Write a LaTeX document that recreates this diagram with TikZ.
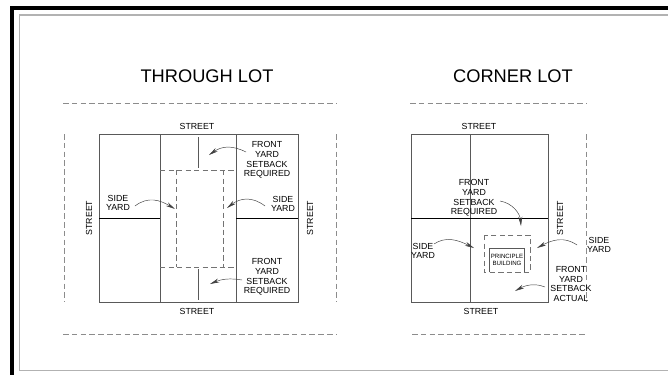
\documentclass[tikz,border=0pt]{standalone}
\usepackage{fontspec}
\setmainfont{Liberation Sans}
\usetikzlibrary{arrows.meta}
\tikzset{
  lotline/.style={black!65, line width=0.6pt},
  yardline/.style={black, line width=0.6pt},
  cutline/.style={black!55, line width=0.6pt, dash pattern=on 4pt off 2.4pt},
  roadline/.style={black!45, line width=0.6pt, dash pattern=on 4.2pt off 2.4pt},
  arr/.style={-{Stealth[length=7pt,width=3pt]}, black!75, line width=0.35pt},
  head/.style={font=\fontsize{13.7}{15}\selectfont, text=black, inner sep=0pt},
  tag/.style={font=\fontsize{6.6}{7.2}\selectfont, align=center, text=black, inner sep=0pt},
  tiny/.style={font=\fontsize{4.6}{5}\selectfont, align=center, text=black, inner sep=0pt},
}
\begin{document}
\begin{tikzpicture}[x=0.75pt, y=-0.75pt]
\useasboundingbox (0,0) rectangle (668,375);
% frame
\draw[black, line width=2.4pt] (668,8) -- (12,8) -- (12,375);
\draw[black!30, line width=1.3pt] (668,15) -- (19.5,15) -- (19.5,370.5) -- (668,370.5);

% through lot
\node[head] (title1) at (207,76) {THROUGH LOT};
\draw[roadline] (63,103) -- (336,103);
\draw[roadline] (63,334) -- (336,334);
\draw[roadline] (64,134) -- (64,302);
\draw[roadline] (336,134) -- (336,302);
\draw[lotline] (99,134) rectangle (298,302);
\draw[lotline] (160,134) -- (160,302);
\draw[lotline] (236,134) -- (236,302);
\draw[yardline] (99,218) -- (160,218);
\draw[yardline] (236,218) -- (298,218);
\draw[cutline] (160,170) -- (236,170);
\draw[cutline] (160,267) -- (236,267);
\draw[cutline] (176,170) -- (176,267);
\draw[cutline] (223,170) -- (223,267);
\draw[lotline] (198,137) -- (198,168);
\draw[lotline] (198,269) -- (198,300);
\node[tag] (st1) at (197,126) {STREET};
\node[tag] (sb1) at (197,311) {STREET};
\node[tag, rotate=90] (sl1) at (89,218) {STREET};
\node[tag, rotate=90] (sr1) at (310,218) {STREET};
\node[tag] (front1) at (267,160) {FRONT\\YARD\\SETBACK\\REQUIRED};
\node[tag] (front2) at (267,277) {FRONT\\YARD\\SETBACK\\REQUIRED};
\node[tag] (side1) at (118,203) {SIDE\\YARD};
\node[tag] (side2) at (283,204) {SIDE\\YARD};
\draw[arr] (246,152) .. controls (232,145) and (222,146) .. (209,155);
\draw[arr] (135,206) .. controls (148,196) and (160,200) .. (175,209);
\draw[arr] (265,206) .. controls (252,196) and (240,198) .. (227,208);
\draw[arr] (242,280) .. controls (230,278) and (222,279) .. (210,284);

% corner lot
\node[head] (title2) at (513,76) {CORNER LOT};
\draw[roadline] (410,103) -- (587,103);
\draw[roadline] (412,334) -- (587,334);
\draw[roadline] (586,134) -- (586,302);
\draw[lotline] (411,134) rectangle (548,302);
\draw[lotline] (470,134) -- (470,302);
\draw[yardline] (411,218) -- (548,218);
\draw[cutline] (484,235) rectangle (530,272);
\draw[lotline] (489,272) -- (489,248) -- (524,248) -- (524,272);
\node[tiny] (build) at (507,260) {PRINCIPLE\\BUILDING};
\node[tag] (st2) at (479,126) {STREET};
\node[tag] (sb2) at (481,311) {STREET};
\node[tag, rotate=90] (sr2) at (560,218) {STREET};
\node[tag] (front3) at (474,198) {FRONT\\YARD\\SETBACK\\REQUIRED};
\node[tag] (front4) at (571,284) {FRONT\\YARD\\SETBACK\\ACTUAL};
\node[tag] (side3) at (423,251) {SIDE\\YARD};
\node[tag] (side4) at (599,245) {SIDE\\YARD};
\draw[arr] (500,201) .. controls (512,203) and (520,213) .. (521,226);
\draw[arr] (434,244) .. controls (446,236) and (458,240) .. (474,248);
\draw[arr] (577,245) .. controls (564,236) and (552,240) .. (537,248);
\draw[arr] (545,287) .. controls (535,283) and (526,285) .. (515,291);
\end{tikzpicture}
\end{document}
